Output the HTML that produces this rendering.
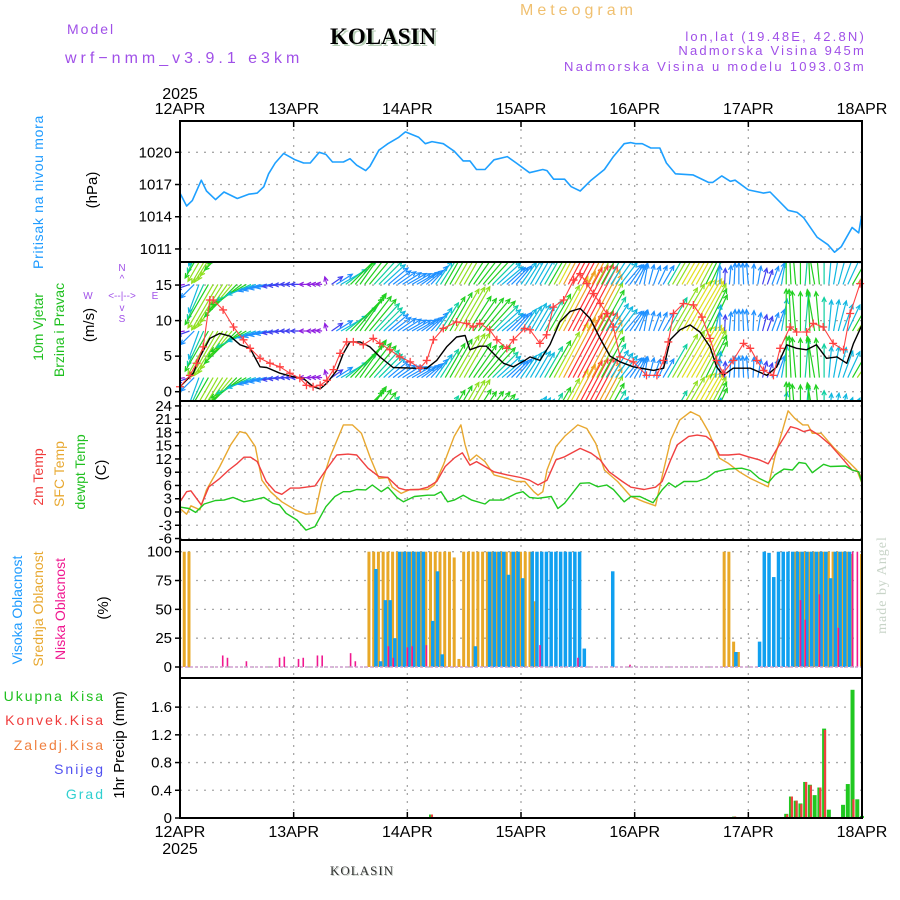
<!DOCTYPE html>
<html><head><meta charset="utf-8"><title>Meteogram KOLASIN</title>
<style>
html,body{margin:0;padding:0;background:#fff;}
svg{display:block;font-family:"Liberation Sans",sans-serif;}
</style></head>
<body>
<svg id="chart" width="900" height="900" viewBox="0 0 900 900" xmlns="http://www.w3.org/2000/svg">
<defs>
<clipPath id="cpW"><rect x="180" y="262" width="682" height="139"/></clipPath>
</defs>
<!-- header -->
<text x="520" y="15" font-size="16" fill="#f0c070" letter-spacing="4">Meteogram</text>
<text x="67" y="34" font-size="14" fill="#a050e8" letter-spacing="2">Model</text>
<text x="65" y="63" font-size="16" fill="#a050e8" letter-spacing="4">wrf−nmm_v3.9.1 e3km</text>
<text x="332" y="46" font-family="Liberation Serif,serif" font-weight="bold" font-size="23" fill="#b8d0b8">KOLASIN</text>
<text x="330" y="44" font-family="Liberation Serif,serif" font-weight="bold" font-size="23" fill="#000">KOLASIN</text>
<text x="866" y="41" font-size="13" fill="#a050e8" text-anchor="end" letter-spacing="2.2">lon,lat (19.48E, 42.8N)</text>
<text x="866" y="55" font-size="13" fill="#a050e8" text-anchor="end" letter-spacing="2.2">Nadmorska Visina 945m</text>
<text x="866" y="71" font-size="13" fill="#a050e8" text-anchor="end" letter-spacing="2.3">Nadmorska Visina u modelu 1093.03m</text>
<text x="180" y="99" font-size="16" text-anchor="middle">2025</text>
<!-- left labels -->
<text transform="translate(43,192) rotate(-90)" font-size="14" fill="#1e9bff" text-anchor="middle" letter-spacing="0.7">Pritisak na nivou mora</text>
<text transform="translate(97,190) rotate(-90)" font-size="15" text-anchor="middle">(hPa)</text>
<text transform="translate(43,327) rotate(-90)" font-size="14" fill="#20c020" text-anchor="middle">10m Vjetar</text>
<text transform="translate(64,330) rotate(-90)" font-size="14" fill="#20c020" text-anchor="middle">Brzina i Pravac</text>
<text transform="translate(94,325) rotate(-90)" font-size="15" text-anchor="middle">(m/s)</text>
<g fill="#a050e8" font-size="10" text-anchor="middle">
<text x="122" y="271">N</text><text x="122" y="282">^</text>
<text x="88" y="299">W</text><text x="122" y="299">&lt;--|--&gt;</text><text x="155" y="299">E</text>
<text x="122" y="311">v</text><text x="122" y="322">S</text>
</g>
<text transform="translate(43,477) rotate(-90)" font-size="14" fill="#f03c3c" text-anchor="middle">2m Temp</text>
<text transform="translate(64,474) rotate(-90)" font-size="14" fill="#e8a830" text-anchor="middle">SFC Temp</text>
<text transform="translate(85,472) rotate(-90)" font-size="14" fill="#20c020" text-anchor="middle">dewpt Temp</text>
<text transform="translate(106,470) rotate(-90)" font-size="15" text-anchor="middle">(C)</text>
<text transform="translate(22,610) rotate(-90)" font-size="14" fill="#1e9bff" text-anchor="middle">Visoka Oblacnost</text>
<text transform="translate(43,609) rotate(-90)" font-size="14" fill="#e8a830" text-anchor="middle">Srednja Oblacnost</text>
<text transform="translate(65,609) rotate(-90)" font-size="14" fill="#f01890" text-anchor="middle">Niska Oblacnost</text>
<text transform="translate(108,608) rotate(-90)" font-size="15" text-anchor="middle">(%)</text>
<g font-size="14" text-anchor="end" letter-spacing="2">
<text x="105" y="701" fill="#20c020">Ukupna  Kisa</text>
<text x="105" y="725" fill="#f03c3c">Konvek.Kisa</text>
<text x="105" y="750" fill="#f08040">Zaledj.Kisa</text>
<text x="105" y="774" fill="#5050f0">Snijeg</text>
<text x="105" y="799" fill="#30d0d0">Grad</text>
</g>
<text transform="translate(124,745) rotate(-90)" font-size="15" text-anchor="middle">1hr Precip (mm)</text>
<text x="180" y="854" font-size="16" text-anchor="middle">2025</text>
<text x="331" y="876" font-family="Liberation Serif,serif" font-size="13" fill="#c0c8c0" letter-spacing="1">KOLASIN</text>
<text x="330" y="875" font-family="Liberation Serif,serif" font-size="13" fill="#333" letter-spacing="1">KOLASIN</text>
<text transform="translate(886,585) rotate(-90)" font-family="Liberation Serif,serif" font-size="14" fill="#c8d4c8" text-anchor="middle" letter-spacing="1">made by Angel</text>
<g id="grid"></g>
<g id="marks"></g>
<g id="axes"></g>
</svg>
<script>
// ---- data ----
const dayLabels = ["12APR","13APR","14APR","15APR","16APR","17APR","18APR"];
const pressureTicks = [1011,1014,1017,1020];
const windTicks = [0,5,10,15];
const tempTicks = [-6,-3,0,3,6,9,12,15,18,21,24];
const cloudTicks = [0,25,50,75,100];
const precipTicks = [0,0.4,0.8,1.2,1.6];

const pressHours = [0,1.4,2.6,4.5,5.6,7.5,9.3,12.1,14.5,16.3,17.7,18.7,20.1,21.9,24.3,26.1,27.5,29.4,30.8,32.2,34.5,35.9,37.3,39.2,40.1,42,43.9,46.2,47.6,50.4,51.8,53.2,55.6,57.9,59.8,61.2,62.6,64.4,66.3,69.1,71,73.8,76.6,77.5,78.9,81.2,82.6,84.5,86.8,89.6,91.5,93.8,95.2,96.2,97.6,99.4,101.3,102.7,104.6,108.3,111.6,112.5,114.4,116.2,117.2,120,123.2,124.6,128.4,130.3,131.7,134.5,136.8,138.2,139.6,141.9,143.3,144];
const pressVals = [1016.2,1015.0,1015.5,1017.4,1016.4,1015.6,1016.3,1015.7,1016.1,1016.2,1016.8,1018.0,1019.0,1019.9,1019.3,1019.0,1019.0,1020.0,1019.8,1019.1,1019.1,1019.4,1018.8,1018.3,1018.7,1020.2,1020.8,1021.4,1021.9,1021.4,1020.8,1021.0,1020.8,1020.1,1019.2,1019.2,1018.4,1018.4,1019.3,1019.6,1019.0,1018.1,1018.4,1018.3,1017.5,1017.5,1016.8,1016.4,1017.4,1018.4,1019.6,1020.8,1020.9,1020.8,1020.8,1020.4,1020.4,1019.0,1018.0,1017.9,1017.2,1017.2,1017.8,1017.3,1017.4,1016.5,1016.2,1016.3,1014.6,1014.4,1013.9,1012.1,1011.4,1010.7,1011.2,1013.0,1012.5,1014.3];

const windHours = [0,2.8,4.2,6.3,8.4,10.6,12.7,14.8,16.9,18.3,21.1,23.9,26,28.1,29.6,31,33.1,34.5,35.9,38,40.1,42.2,45,49.3,52.1,54.2,56.3,58.4,60.2,61.2,63.3,64.7,66.9,68.3,70.4,72.8,73.9,76,78.1,80.2,82.4,84.5,86.6,88.7,90.8,92.9,95.7,100,102.1,103.5,105.6,107.7,109.8,111.9,113.3,114.7,116.8,120.4,123.9,126,128.1,130.2,132.3,134.4,136.5,138.7,140.8,142.2,144];
const windSpeed = [0.7,2.6,4.9,7.5,8.2,7.8,6.6,6.1,3.5,3.4,2.6,2.1,1.9,0.7,0.4,1.2,3.0,5.4,7.0,7.0,6.3,4.9,3.4,3.3,3.3,4.4,6.3,7.7,7.9,5.9,6.4,6.4,4.9,4.0,3.5,4.4,4.9,4.4,6.6,9.8,11.3,11.7,10.3,7.5,5.0,4.2,3.5,3.0,3.3,7.3,8.7,9.4,8.4,6.3,3.5,2.3,3.3,3.3,2.3,3.5,6.6,6.1,5.9,6.6,4.7,4.9,4.0,6.8,9.4];
const gustHours = [0,2.1,3.5,4.9,6.3,7,9.1,11.3,13.4,14.8,16.9,19,21.1,23.2,25.3,26.7,28.1,29.6,31,32.4,33.8,35.2,36.6,38.7,40.8,42.2,44.3,46.4,48.6,50.7,52.1,53.5,55.6,58.4,60.5,61.9,63.3,65.4,66.9,69,70.4,72.8,73.9,76,77.4,78.8,81,83.1,84.5,85.9,87.3,88.7,90.1,91.5,92.9,95.7,98.5,100.7,102.1,103.1,104.2,106.3,108.4,110.2,111.9,113.3,114.7,116.8,119,120.4,121.8,123.2,125.3,126.7,128.8,130.2,132.3,133.7,135.8,137.9,140.1,141.5,143.6];
const gustVals = [0.7,2.3,4.0,6.3,12.9,12.9,11.5,9.1,7.3,6.1,4.7,4.0,3.5,2.6,1.9,0.9,0.7,0.9,1.6,3.1,5.4,7.0,7.0,6.6,7.5,6.8,5.9,4.9,4.2,3.3,4.4,7.3,8.9,9.8,9.6,9.1,9.6,8.7,7.3,6.1,7.3,8.9,8.7,6.8,8.0,11.9,12.9,15.7,16.6,15.2,13.8,12.4,11.0,9.1,4.9,4.2,2.3,2.3,4.4,7.0,11.0,12.4,12.2,10.5,7.5,4.4,2.6,4.4,6.8,6.1,4.4,3.0,2.3,6.1,9.1,8.4,8.4,9.6,9.1,6.8,5.9,11.0,15.2];
// arrow direction every 2 h (degrees, 0=toward east, 90=toward north)
const arrowHours = [0,2,4,6,8,10,12,14,16,18,20,22,24,26,28,30,32,34,36,38,40,42,44,46,48,50,52,54,56,58,60,62,64,66,68,70,72,74,76,78,80,82,84,86,88,90,92,94,96,98,100,102,104,106,108,110,112,114,116,118,120,122,124,126,128,130,132,134,136,138,140,142,144];
const arrowDir = [180,200,250,240,240,235,225,210,200,195,190,185,180,180,180,175,35,30,45,55,50,45,40,35,30,30,40,55,60,60,60,55,50,45,40,45,55,60,60,60,62,62,62,62,62,60,55,50,60,80,70,60,60,60,60,62,65,90,85,90,95,80,70,70,90,95,85,100,90,80,70,60,50];

const t2Hours = [0,1.4,2.3,4.5,6.1,8.4,10.3,12.1,13.5,14.9,16.3,18.2,20.1,21.5,23.3,25.2,28.5,30.8,33.1,35.5,37.3,39.7,42,43.9,46.2,47.6,50.4,52.3,54.2,56,57.9,59.6,61.2,62.6,64.4,66.3,69.1,71.9,73.8,75.6,77.5,79.4,81.2,84.5,86.8,88.7,90.6,93.4,95.2,98,100.4,101.8,103.6,105,107.4,109.2,111.1,112.5,113.9,115.8,118.1,120,122.3,124.2,126.1,128.9,130.3,131.7,133.1,134.9,137.3,140.1,141.9,143.3,144];
const t2Vals = [2.3,4.6,4.8,1.6,5.7,7.6,9.5,11.0,12.4,12.4,11.4,6.9,4.6,4.0,5.4,5.4,5.9,9.5,12.9,13.1,12.9,9.9,8.0,7.8,5.4,5.0,5.1,5.6,6.9,10.3,12.2,13.4,10.6,11.4,10.3,9.1,8.4,7.8,7.2,6.1,7.2,11.8,12.5,14.4,13.3,11.8,9.1,6.9,5.6,5.1,5.6,6.9,11.8,15.2,17.1,17.4,17.1,15.9,12.9,12.9,13.1,12.5,11.8,10.9,14.4,19.3,18.9,18.2,18.6,17.4,15.2,11.8,9.5,9.1,7.2];
const sfcHours = [0,1.4,2.3,4.2,5.6,8.4,10.7,12.6,14,15.9,17.3,19.1,21.5,24.3,26.6,28.5,29.9,31.7,34.5,36.4,38.3,40.1,42,43.9,44.8,46.7,48.6,52.3,53.7,55.6,57.9,59.3,60.2,61.2,62.6,64.4,66.3,69.1,71,72.8,74.7,75.6,76.6,77.5,79.4,81.2,84,85.9,87.8,89.6,92.4,95.2,98,100.4,101.8,103.6,105.5,107.8,109.7,111.6,113.9,115.8,118.1,120.4,121.8,124.2,125.6,128.4,129.8,131.5,132.6,133.5,135.4,138.2,140.1,142.9,144];
const sfcVals = [0.8,-0.5,1.4,0.5,5.0,10.3,15.2,18.2,17.8,14.8,7.2,4.6,2.3,0.5,-0.5,-0.3,6.5,12.5,19.7,19.7,17.8,12.5,7.6,7.8,5.6,4.2,5.1,5.1,6.1,10.6,17.1,19.7,15.2,11.6,12.9,11.4,8.4,7.6,6.9,6.9,4.6,3.8,4.6,9.5,14.8,17.1,19.7,18.9,15.5,9.5,6.9,3.5,2.3,1.4,8.0,16.3,20.8,22.7,21.7,18.2,12.2,11.0,9.1,7.6,6.9,5.7,12.5,22.9,21.2,19.7,19.7,17.8,17.8,14.4,12.5,9.5,6.5];
const dewHours = [0,1.9,3.3,5.1,7.5,9.3,11.2,13.5,15.4,17.7,19.6,21,22.4,24.7,26.6,28.5,30.8,32.7,34.5,35.9,37.3,39.2,40.6,42.5,43.9,45.8,47.2,49.5,52.3,53.7,55.1,56.5,57.9,59.8,61.6,64.4,65.4,68.2,71,72.4,73.8,75.6,78.4,79.8,81.2,84.5,86.4,88.2,90.1,91.5,93.8,95.2,97.1,99.9,101.8,103.2,104.6,106.4,109.2,111.1,113,115.8,118.6,120.4,122.3,124.2,125.6,127.5,129.3,130.7,132.1,133.5,135.9,137.3,140.5,141.9,143.3,144];
const dewVals = [1.1,0.8,-0.1,1.8,2.6,2.7,3.3,2.3,2.7,3.3,2.0,1.6,-0.3,-1.8,-4.1,-3.3,1.2,3.5,4.6,4.6,5.1,5.0,6.1,4.6,5.6,3.3,2.3,3.5,3.8,3.8,4.6,2.3,2.7,3.8,2.7,1.8,2.7,2.7,4.2,4.6,3.3,3.1,3.5,0.8,2.0,6.5,6.6,5.7,6.1,5.1,2.3,3.5,3.5,2.1,5.0,6.6,5.6,6.9,6.9,7.6,9.1,9.7,9.9,9.4,7.6,6.6,8.4,9.7,9.5,11.2,11.0,8.9,10.8,10.3,10.4,9.5,9.1,6.5];

const cloudHighHours = [41,42,43,44,45,46,47,48,49,50,51,53,54,55,62,65,66,67,68,69,70,71,72,74,75,76,77,78,79,80,81,82,83,84,85,91,117,122,123,124,125,126,127,128,129,130,131,132,133,134,135,136,137,138,139,140,141];
const cloudHighVals = [85,5,58,58,25,100,100,100,100,100,100,40,83,11,18,100,100,100,100,80,100,100,77,100,100,100,100,100,100,100,100,100,100,100,16,83,13,22,100,99,78,100,100,100,100,100,100,100,100,100,100,100,77,100,100,100,100];
const cloudMidHours = [1,2,40,41,42,43,44,45,46,47,48,49,50,51,52,53,54,55,56,57,58,59,60,61,62,63,64,65,66,67,68,69,70,71,72,73,74,75,115,116,117,118,130,131,132,133,134,135,136,137,138,139,140,141,142,144];
const cloudMidVals = [100,100,100,100,100,100,100,100,100,100,100,100,100,100,100,100,100,100,100,100,95,7,100,100,100,100,100,100,100,100,100,100,100,100,100,100,100,57,100,100,22,13,100,100,100,100,100,100,100,100,100,100,100,100,98,98];
const cloudLowHours = [9,10,14,21,22,25,26,29,30,36,37,44,45,48,49,52,76,84,95,131,132,135,139,142,143];
const cloudLowVals = [10,8,5,8,9,7,8,10,10,12,5,18,8,17,18,19,19,8,2,58,41,63,34,100,100];

const rainHours = [53,117,128,129,130,131,132,133,134,135,136,137,140,141,142,143,144];
const rainTotal = [0.05,0.02,0.06,0.31,0.25,0.21,0.52,0.48,0.33,0.44,1.29,0.12,0.19,0.49,1.85,0.27,0.03];
const rainConv = [0.05,0.02,0.05,0.31,0.25,0.20,0.52,0.47,0,0.44,1.27,0,0,0,0.27,0,0];

// ---- scales ----
const X0 = 180, X1 = 862, HOURS = 144;
const xs = h => X0 + h*(X1-X0)/HOURS;
const yP = v => 152.3 + (1020 - v)*10.74;
const yW = v => 391.7 - v*7.11;
const yT = v => 512 - v*4.42;
const yC = v => 667 - v*1.153;
const yR = v => 818 - v*69.3;
const NS = "http://www.w3.org/2000/svg";
function mk(tag, attrs, parent){
  const e = document.createElementNS(NS, tag);
  for (const k in attrs) e.setAttribute(k, attrs[k]);
  parent.appendChild(e);
  return e;
}
const grid = document.getElementById('grid');
const marks = document.getElementById('marks');
const axes = document.getElementById('axes');
const panels = [[121,262],[262,401],[401,540],[540,678],[678,818]];

dayLabels.forEach((d,i)=>{
  const x = xs(i*24);
  if (i>0 && i<6){
    const g = mk('line',{x1:x,x2:x,y1:121,y2:818,stroke:'#a8a8a8','stroke-dasharray':'2,6','stroke-width':1.3},grid);
    
    
  }
  const t1 = mk('text',{x:x,y:114,'font-size':16,'text-anchor':'middle'},axes);
  t1.textContent = d;
  
  
  const t2 = mk('text',{x:x,y:837,'font-size':16,'text-anchor':'middle'},axes);
  t2.textContent = d;
  
  
});

function yTicks(ticks, scale, fmt, name){
  ticks.forEach(v=>{
    const y = scale(v);
    const gl = mk('line',{x1:X0,x2:X1,y1:y,y2:y,stroke:'#a8a8a8','stroke-dasharray':'2,6','stroke-width':1.3},grid);
    
    
    const tk = mk('line',{x1:X0-5,x2:X0,y1:y,y2:y,stroke:'#000','stroke-width':1.5},axes);
    
    
    const t = mk('text',{x:X0-8,y:y+5,'font-size':15,'text-anchor':'end'},axes);
    t.textContent = fmt(v);
    
    
  });
}
yTicks(pressureTicks, yP, v=>String(v), 'pressure');
yTicks(windTicks, yW, v=>String(v), 'wind');
yTicks(tempTicks, yT, v=>String(v), 'temp');
yTicks(cloudTicks, yC, v=>String(v), 'cloud');
yTicks(precipTicks, yR, v=>v===0?'0':v.toFixed(1), 'precip');

function poly(hs, vs, scale, color, name, width){
  const pts = hs.map((h,i)=>xs(h).toFixed(1)+','+scale(vs[i]).toFixed(1)).join(' ');
  const p = mk('polyline',{points:pts,fill:'none',stroke:color,'stroke-width':width||1.4,'stroke-linejoin':'round'},marks);
  
  
  return p;
}
poly(pressHours, pressVals, yP, '#1ea0ff', 'pressure-line', 1.6);

// wind arrows (hourly, direction/speed read from the arrays above)
const windG = mk('g',{'clip-path':'url(#cpW)'},marks);


function interp(hs, vs, h){
  if (h<=hs[0]) return vs[0];
  for (let i=1;i<hs.length;i++){ if (h<=hs[i]){ const f=(h-hs[i-1])/(hs[i]-hs[i-1]); return vs[i-1]+f*(vs[i]-vs[i-1]); } }
  return vs[vs.length-1];
}
function spdColor(s){
  if (s<1.5) return '#9020e0';
  if (s<2.8) return '#4040f0';
  if (s<4) return '#1e90ff';
  if (s<5) return '#10b8e0';
  if (s<6) return '#10d0a0';
  if (s<7.3) return '#20d020';
  if (s<8.5) return '#90e020';
  if (s<9.5) return '#e0e020';
  if (s<11) return '#f0a020';
  return '#ff3030';
}
const bases = [237.8,284.4,331,377.6,424.2];
for (let h=0; h<=HOURS; h++){
  const s = interp(windHours, windSpeed, h);
  const L = Math.max(6, s*6.5);
  const a = interp(arrowHours, arrowDir, h)*Math.PI/180;
  const col = spdColor(s);
  const x = xs(h);
  bases.forEach(b=>{
    const x2 = x + L*Math.cos(a), y2 = b - L*Math.sin(a);
    const ln = mk('line',{x1:x,y1:b,x2:x2,y2:y2,stroke:col,'stroke-width':1.2},windG);
    
    
    const ha = a+Math.PI;
    const hp = [ha-0.45, ha+0.45].map(q=>(x2+5*Math.cos(q)).toFixed(1)+','+(y2-5*Math.sin(q)).toFixed(1));
    const hd = mk('polyline',{points:hp[0]+' '+x2.toFixed(1)+','+y2.toFixed(1)+' '+hp[1],fill:'none',stroke:col,'stroke-width':1.2},windG);
    
    
  });
}
poly(windHours, windSpeed, yW, '#000', 'wind-speed-line', 1.4);
poly(gustHours, gustVals, yW, '#ff4040', 'wind-gust-line', 1.1);
gustHours.forEach((h,i)=>{
  const x = xs(h), y = yW(gustVals[i]);
  const m = mk('path',{d:`M${x-4},${y}H${x+4}M${x},${y-4}V${y+4}`,stroke:'#ff4040','stroke-width':1.3},marks);
  
  
});

// temperatures
poly(sfcHours, sfcVals, yT, '#e8a830', 'sfc-temp-line', 1.4);
poly(t2Hours, t2Vals, yT, '#f04040', '2m-temp-line', 1.4);
poly(dewHours, dewVals, yT, '#20c820', 'dewpoint-line', 1.4);

// clouds
cloudMidHours.forEach((h,i)=>{
  const x = xs(h), y = yC(cloudMidVals[i]);
  const r = mk('rect',{x:x-2,y:y,width:3,height:yC(0)-y,fill:'#e8a828'},marks);
  
  
});
cloudHighHours.forEach((h,i)=>{
  const x = xs(h), y = yC(cloudHighVals[i]);
  const r = mk('rect',{x:x,y:y,width:3.5,height:yC(0)-y,fill:'#10a0f0'},marks);
  
  
});
cloudLowHours.forEach((h,i)=>{
  const x = xs(h), y = yC(cloudLowVals[i]);
  const r = mk('rect',{x:x-0.7,y:y,width:1.6,height:yC(0)-y,fill:'#f01890'},marks);
  
  
});
const cb = mk('line',{x1:X0,x2:X1,y1:yC(0),y2:yC(0),stroke:'#d0a0d0','stroke-width':1.5,'stroke-dasharray':'3,2'},marks);



// precipitation
rainHours.forEach((h,i)=>{
  const x = xs(h);
  const y = yR(rainTotal[i]);
  const r = mk('rect',{x:x-2,y:y,width:4,height:yR(0)-y,fill:'#20c820'},marks);
  
  
  if (rainConv[i]>0){
    const yc = yR(rainConv[i]);
    const c = mk('rect',{x:x-0.2,y:yc,width:2.2,height:yR(0)-yc,fill:'#f04040'},marks);
    
    
  }
});

// panel frames
panels.forEach((p,i)=>{
  const r = mk('rect',{x:X0,y:p[0],width:X1-X0,height:p[1]-p[0],fill:'none',stroke:'#000','stroke-width':2},axes);
  
  
});
[0,1,2,3,4,5,6].forEach(i=>{
  const x = xs(i*24);
  const t = mk('line',{x1:x,x2:x,y1:121,y2:127,stroke:'#000','stroke-width':1.5},axes);
  
  
  const b = mk('line',{x1:x,x2:x,y1:812,y2:818,stroke:'#000','stroke-width':1.5},axes);
  
  
});
</script>
</body></html>
